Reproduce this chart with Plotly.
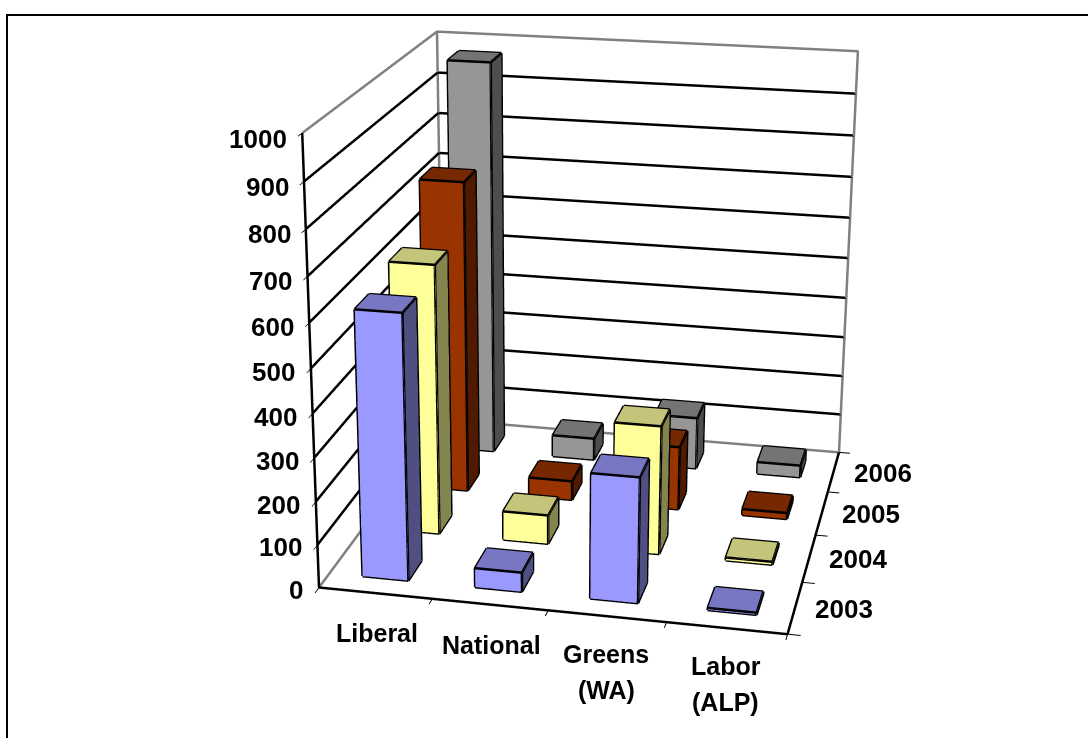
import plotly.graph_objects as go

categories = ["Liberal", "National", "Greens<br>(WA)", "Labor<br>(ALP)"]
years = ["2003", "2004", "2005", "2006"]
v2003 = [610, 45, 288, 5]
v2004 = [636, 69, 304, 7]
v2005 = [753, 47, 155, 15]
v2006 = [972, 55, 130, 30]
z_ticks = [0, 100, 200, 300, 400, 500, 600, 700, 800, 900, 1000]

series = [v2003, v2004, v2005, v2006]
front = ["#9999FF", "#FFFF99", "#993300", "#969696"]
top = ["#7777C4", "#C4C47A", "#762800", "#747474"]
side = ["#4F4F82", "#84844F", "#501A00", "#4E4E4E"]

W = H = 1905
OFF_X, OFF_Y = -408, -583
BAR = 0.205


def bar_mesh(j, vals):
    xs, ys, zs, I, J, K, fc = [], [], [], [], [], [], []
    ex, ey, ez = [], [], []
    for i, v in enumerate(vals):
        x0, x1 = i + 0.5 - BAR, i + 0.5 + BAR
        y0, y1 = j + 0.5 - BAR, j + 0.5 + BAR
        n = len(xs)
        for zz in (0, v):
            xs += [x0, x1, x1, x0]
            ys += [y0, y0, y1, y1]
            zs += [zz] * 4
        faces = [
            ((0, 1, 5), front[j]), ((0, 5, 4), front[j]),
            ((1, 2, 6), side[j]), ((1, 6, 5), side[j]),
            ((4, 5, 6), top[j]), ((4, 6, 7), top[j]),
        ]
        for (a, b, c), col in faces:
            I.append(n + a); J.append(n + b); K.append(n + c); fc.append(col)
        for a, b in [(0, 1), (1, 2), (4, 5), (5, 6), (6, 7), (7, 4), (0, 4), (1, 5), (2, 6), (3, 7)]:
            ex += [xs[n + a], xs[n + b], None]
            ey += [ys[n + a], ys[n + b], None]
            ez += [zs[n + a], zs[n + b], None]
    mesh = go.Mesh3d(x=xs, y=ys, z=zs, i=I, j=J, k=K, facecolor=fc, flatshading=True,
                     lighting=dict(ambient=1, diffuse=0, specular=0, roughness=1, fresnel=0),
                     hoverinfo="skip", showscale=False, name=years[j])
    edges = go.Scatter3d(x=ex, y=ey, z=ez, mode="lines", line=dict(color="black", width=5),
                         hoverinfo="skip", showlegend=False)
    return [mesh, edges]


fig = go.Figure()
# grey wall outlines
wx = [0, 0, 4, 4, 0, 0, None, 0, 0]
wy = [0, 4, 4, 4, 4, 4, None, 0, 4]
wz = [1000, 1000, 1000, 0, 0, 1000, None, 0, 0]
fig.add_trace(go.Scatter3d(x=wx, y=wy, z=wz, mode="lines", line=dict(color="#808080", width=5),
                           hoverinfo="skip", showlegend=False))
# black gridlines on the two walls, and the black axis edges
gx, gy, gz = [], [], []
for z in z_ticks[1:-1]:
    gx += [0, 0, 4, None]
    gy += [0, 4, 4, None]
    gz += [z, z, z, None]
gx += [0, 0, None, 0, 4, 4]
gy += [0, 0, None, 0, 0, 4]
gz += [0, 1000, None, 0, 0, 0]
fig.add_trace(go.Scatter3d(x=gx, y=gy, z=gz, mode="lines", line=dict(color="black", width=5),
                           hoverinfo="skip", showlegend=False))
for j, vals in enumerate(series):
    for t in bar_mesh(j, vals):
        fig.add_trace(t)

FONT = dict(family="Liberation Sans, Arial, sans-serif", size=25, color="black")
NUM = dict(family="Liberation Sans, Arial, sans-serif", size=26, color="black")
anns = []
label_shift = [(2, -40), (2, -40), (-1, -38), (-1, -38)]
for i, c in enumerate(categories):
    for k, part in enumerate(c.split("<br>")):
        anns.append(dict(x=i + 0.5, y=0, z=0, text=f"<b>{part}</b>", showarrow=False, font=FONT,
                         xanchor="center", yanchor="middle", xshift=label_shift[i][0],
                         yshift=label_shift[i][1] - 36 * k))
for j, y in enumerate(years):
    anns.append(dict(x=4, y=j + 0.5, z=0, text=f"<b>{y}</b>", showarrow=False, font=NUM,
                     xanchor="center", yanchor="middle", xshift=49, yshift=-1))
for z in z_ticks:
    anns.append(dict(x=0, y=0, z=z, text=f"<b>{z}</b>", showarrow=False, font=NUM,
                     xanchor="right", yanchor="middle", xshift=-14 + 1 * z / 1000, yshift=-2 - 4 * z / 1000))

axis_common = dict(showbackground=False, showspikes=False, zeroline=False, showticklabels=False,
                   title=dict(text=""), showline=False,
                   ticks="outside", ticklen=10, tickwidth=2, tickcolor="black", showgrid=False)
scene = dict(
    domain=dict(x=[0, 1], y=[0, 1]),
    aspectmode="manual", aspectratio=dict(x=1.008, y=1.02, z=1),
    xaxis=dict(range=[0, 4], tickvals=[0, 1, 2, 3, 4], **axis_common),
    yaxis=dict(range=[0, 4], tickvals=[0, 1, 2, 3, 4], **axis_common),
    zaxis=dict(range=[0, 1000], tickvals=z_ticks, **axis_common),
    camera=dict(eye=dict(x=0.957, y=-4.769, z=1.625), center=dict(x=-0.1745, y=0.225, z=-0.2365),
                up=dict(x=0.0067, y=0, z=1), projection=dict(type="perspective")),
    annotations=anns,
)


def px(x):
    return (x - OFF_X) / W


def py(y):
    return 1 - (y - OFF_Y) / H


fig.update_layout(
    width=W, height=H, margin=dict(l=0, r=0, t=0, b=0), paper_bgcolor="white",
    showlegend=False, scene=scene,
    shapes=[
        dict(type="line", xref="paper", yref="paper", x0=px(6.5), x1=px(1088), y0=py(15), y1=py(15),
             line=dict(color="black", width=2)),
        dict(type="line", xref="paper", yref="paper", x0=px(7), x1=px(7), y0=py(14), y1=py(738),
             line=dict(color="black", width=2)),
    ],
)

post = f"""
document.documentElement.style.overflow='hidden';
document.body.style.overflow='hidden';
document.body.style.margin='0';
var d=document.querySelector('.plotly-graph-div');
d.style.position='absolute';d.style.left='{OFF_X}px';d.style.top='{OFF_Y}px';
"""
fig.write_html("out.html", post_script=post, config=dict(displayModeBar=False))
